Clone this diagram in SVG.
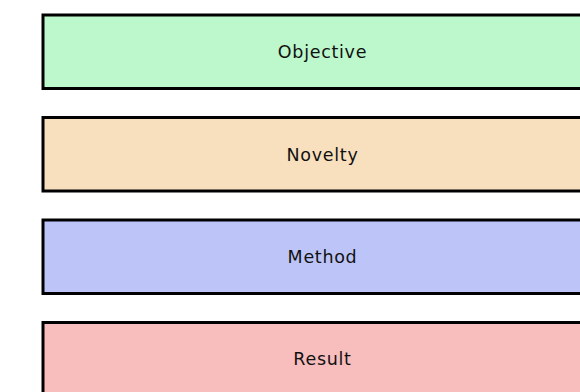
<svg xmlns="http://www.w3.org/2000/svg" width="580" height="392" viewBox="0 0 580 392">
<style>
.box{stroke:#000;stroke-width:3}
.lbl{font-family:"DejaVu Sans","Noto Sans",sans-serif;font-size:17.5px;letter-spacing:0.7px;fill:#111;text-anchor:middle}
</style>
<rect width="580" height="392" fill="#fff"/>
<g id="objective"><rect class="box" x="43" y="15" width="560" height="73.5" fill="#bcf8cc"/><text class="lbl" x="322.5" y="58.3">Objective</text></g>
<g id="novelty"><rect class="box" x="43" y="117.5" width="560" height="73.5" fill="#f8dfbd"/><text class="lbl" x="322.5" y="160.7">Novelty</text></g>
<g id="method"><rect class="box" x="43" y="220" width="560" height="73.5" fill="#bdc5f8"/><text class="lbl" x="322.5" y="262.8">Method</text></g>
<g id="result"><rect class="box" x="43" y="322.5" width="560" height="73.5" fill="#f8bdbd"/><text class="lbl" x="322.5" y="365.3">Result</text></g>
<g id="connectors"/>
</svg>
